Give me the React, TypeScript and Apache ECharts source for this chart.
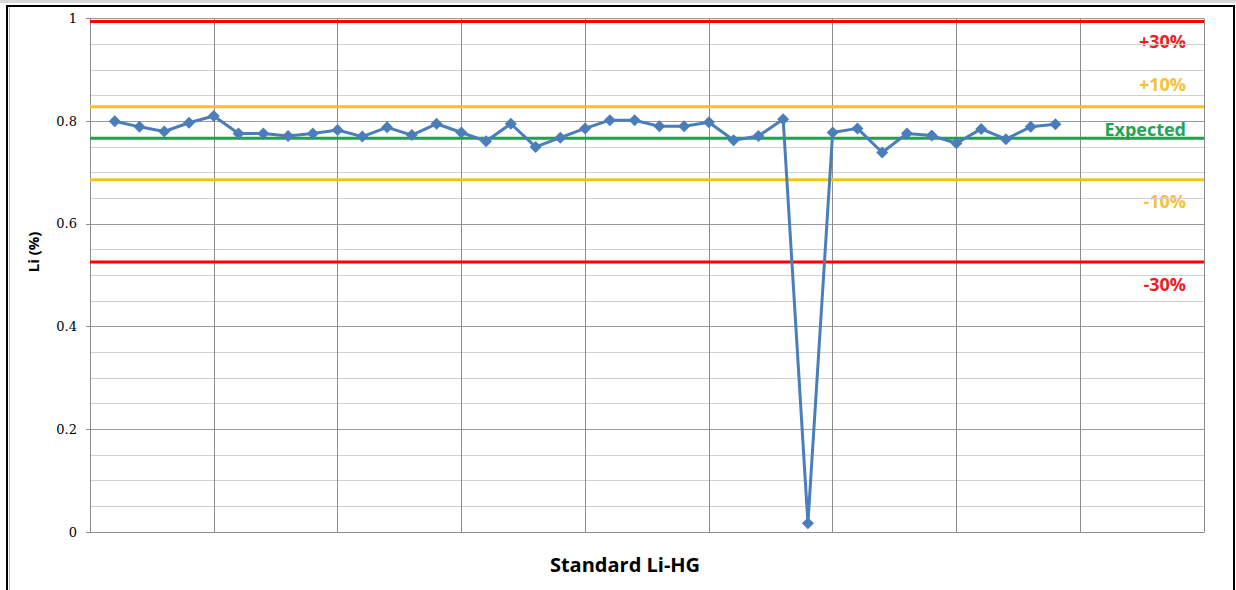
import React, { useEffect, useRef } from "react";
import * as echarts from "echarts";

const sampleIndex = [1,2,3,4,5,6,7,8,9,10,11,12,13,14,15,16,17,18,19,20,21,22,23,24,25,26,27,28,29,30,31,32,33,34,35,36,37,38,39];
const liValues = [
  0.800, 0.789, 0.780, 0.797, 0.810, 0.776, 0.776, 0.771, 0.776, 0.783,
  0.770, 0.788, 0.773, 0.795, 0.778, 0.761, 0.795, 0.750, 0.768, 0.786,
  0.802, 0.802, 0.790, 0.790, 0.798, 0.763, 0.771, 0.804, 0.017, 0.778,
  0.786, 0.739, 0.776, 0.772, 0.757, 0.785, 0.765, 0.789, 0.794,
];
const refNames = ["+30%", "+10%", "Expected", "-10%", "-30%"];
const refValues = [0.994, 0.828, 0.767, 0.686, 0.526];
const refLineColors = ["#ff0000", "#f7c21b", "#1fa24a", "#f7c21b", "#ff0000"];
const refTextColors = ["#ee1d24", "#f4c235", "#22a456", "#f4c235", "#ee1d24"];
const xRange = [0, 45];
const yTicks = [0, 0.2, 0.4, 0.6, 0.8, 1];

export default function App() {
  const ref = useRef<HTMLDivElement>(null);
  useEffect(() => {
    if (!ref.current) return;
    const chart = echarts.init(ref.current, null, { renderer: "svg" });
    const labelY = [41, 84, 129, 201, 284];
    const refSeries = refValues.map((v, i) => ({
      name: refNames[i],
      type: "line",
      data: [[xRange[0], v], [xRange[1], v]],
      symbol: "none",
      lineStyle: { color: refLineColors[i], width: 3 },
      z: 2,
      silent: true,
    }));
    chart.setOption({
      animation: false,
      backgroundColor: "#ffffff",
      grid: { left: 90, top: 18.5, right: 32, bottom: 58, containLabel: false },
      xAxis: {
        type: "value",
        min: xRange[0],
        max: xRange[1],
        interval: 5,
        axisLine: { show: true, lineStyle: { color: "#8c8c8c", width: 1 } },
        axisTick: { show: false },
        axisLabel: { show: false },
        splitLine: { show: true, lineStyle: { color: "#8c8c8c", width: 1 } },
      },
      yAxis: {
        type: "value",
        min: yTicks[0],
        max: yTicks[yTicks.length - 1],
        interval: 0.2,
        axisLine: { show: true, lineStyle: { color: "#8c8c8c", width: 1 } },
        axisTick: { show: true, length: 4, inside: false, lineStyle: { color: "#8c8c8c" } },
        axisLabel: {
          show: true,
          margin: 13,
          color: "#000",
          fontFamily: "DejaVu Serif",
          fontSize: 13,
          formatter: (v: number) => String(Math.round(v * 10) / 10),
        },
        splitLine: { show: true, lineStyle: { color: "#9a9a9a", width: 1 } },
        minorTick: { show: false, splitNumber: 4 },
        minorSplitLine: { show: true, lineStyle: { color: "#d0d0d0", width: 1 } },
      },
      series: [
        ...refSeries,
        {
          name: "Li",
          type: "line",
          data: sampleIndex.map((x, i) => [x, liValues[i]]),
          symbol: "diamond",
          symbolSize: 12,
          itemStyle: { color: "#4a7ebb" },
          lineStyle: { color: "#4a7ebb", width: 3 },
          z: 5,
        },
      ],
      graphic: [
        { type: "rect", shape: { x: 0, y: 0, width: 1236, height: 3 }, style: { fill: "#d8d8d8" }, silent: true },
        {
          type: "polyline",
          shape: { points: [[7, 600], [7, 6], [1234, 6], [1234, 600]] },
          style: { stroke: "#000", lineWidth: 2, fill: null },
          silent: true,
        },
        {
          type: "line",
          shape: { x1: 9.5, y1: 7, x2: 9.5, y2: 590 },
          style: { stroke: "#b8b8b8", lineWidth: 1 },
          silent: true,
        },
        ...refNames.map((n, i) => ({
          type: "text",
          x: 1186,
          y: labelY[i],
          style: {
            text: n,
            fill: refTextColors[i],
            font: "bold 18px 'Open Sans'",
            textAlign: "right",
            textVerticalAlign: "middle",
          },
          silent: true,
        })),
        {
          type: "text",
          x: 625,
          y: 564,
          style: {
            text: "Standard Li-HG",
            fill: "#000",
            font: "bold 20px 'Open Sans'",
            textAlign: "center",
            textVerticalAlign: "middle",
          },
          silent: true,
        },
        {
          type: "text",
          x: 33,
          y: 252,
          rotation: Math.PI / 2,
          style: {
            text: "Li (%)",
            fill: "#000",
            font: "bold 15px 'Open Sans'",
            textAlign: "center",
            textVerticalAlign: "middle",
          },
          silent: true,
        },
      ],
    });
    return () => chart.dispose();
  }, []);
  return (
    <div
      ref={ref}
      style={{ position: "fixed", left: 0, top: 0, width: 1236, height: 590, background: "#fff" }}
    />
  );
}
